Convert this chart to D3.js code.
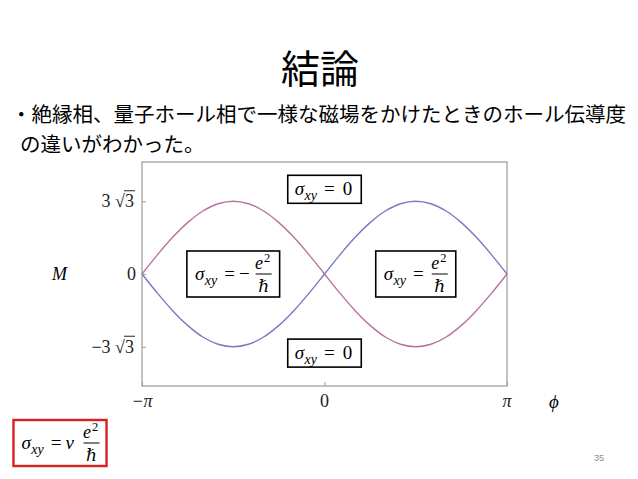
<!DOCTYPE html>
<html><head><meta charset="utf-8">
<script src="https://cdn.jsdelivr.net/npm/d3@7"></script>
<style>html,body{margin:0;padding:0;background:#fff}svg{display:block}</style>
</head><body>
<svg id="c" width="638" height="479"></svg>
<script>
// ---- data ----
const titleText = "結論";
const bodyLines = ["・絶縁相、量子ホール相で一様な磁場をかけたときのホール伝導度", "の違いがわかった。"];
// phase samples in units of pi/12
const phiSteps = [-12,-11,-10,-9,-8,-7,-6,-5,-4,-3,-2,-1,0,1,2,3,4,5,6,7,8,9,10,11,12];
const magPink = [0,1.35,2.6,3.67,4.5,5.02,5.2,5.02,4.5,3.67,2.6,1.35,0,-1.35,-2.6,-3.67,-4.5,-5.02,-5.2,-5.02,-4.5,-3.67,-2.6,-1.35,0];
const magBlue = [0,-1.35,-2.6,-3.67,-4.5,-5.02,-5.2,-5.02,-4.5,-3.67,-2.6,-1.35,0,1.35,2.6,3.67,4.5,5.02,5.2,5.02,4.5,3.67,2.6,1.35,0];
const xTickValues = [-Math.PI, 0, Math.PI];
const xTickLabels = ["−π", "0", "π"];
const yTickValues = [3*Math.sqrt(3), 0, -3*Math.sqrt(3)];
const yTickCoef = ["3", "0", "−3"];
const yTickRad = ["3", "", "3"];
const xLabel = "ϕ";
const yLabel = "M";
// annotation boxes: [phi, M] anchor and right-hand side of sigma_xy
const annotPhi = [0, 0, -Math.PI/2, Math.PI/2];
const annotM = [6.05, -5.65, 0, 0];
const annotOp = ["", "", "−", ""];
const annotFrac = [false, false, true, true];
const annotVal = ["0", "0", "", ""];
const pageNumber = "35";

// ---- drawing ----
const svg = d3.select("#c");
const W = 638, H = 479;
const JP = "'Noto Sans CJK JP','Noto Sans',sans-serif";
const MATH = "'Liberation Serif','DejaVu Serif',serif";

svg.append("rect").attr("width", W).attr("height", H).attr("fill", "#fff");

svg.append("text").attr("x", 320).attr("y", 83).attr("text-anchor", "middle")
  .attr("font-family", JP).attr("font-size", 39).attr("fill", "#000").text(titleText);

svg.append("text").attr("x", 11).attr("y", 122).attr("font-family", JP)
  .attr("font-size", 20.5).attr("fill", "#000").text(bodyLines[0]);
svg.append("text").attr("x", 20).attr("y", 152).attr("font-family", JP)
  .attr("font-size", 20.5).attr("fill", "#000").text(bodyLines[1]);

const x = d3.scaleLinear().domain([-Math.PI, Math.PI]).range([142, 507]);
const y = d3.scaleLinear().domain([-8, 8]).range([386, 162]);

// frame
const AX = "#9a9a9a";
svg.append("rect").attr("x", x.range()[0]).attr("y", y.range()[1])
  .attr("width", x.range()[1]-x.range()[0]).attr("height", y.range()[0]-y.range()[1])
  .attr("fill", "none").attr("stroke", AX).attr("stroke-width", 1.2);

const gx = svg.append("g").attr("transform", `translate(0,${y.range()[0]})`)
  .call(d3.axisBottom(x).tickValues(xTickValues).tickSizeInner(-4).tickSizeOuter(0).tickFormat(""));
gx.select(".domain").remove();
gx.selectAll("line").attr("stroke", AX);
const gy = svg.append("g").attr("transform", `translate(${x.range()[0]},0)`)
  .call(d3.axisLeft(y).tickValues(yTickValues).tickSizeInner(-4).tickSizeOuter(0).tickFormat(""));
gy.select(".domain").remove();
gy.selectAll("line").attr("stroke", AX);

// x tick labels
svg.selectAll("text.xt").data(xTickValues).join("text").attr("class", "xt")
  .attr("x", d => x(d)).attr("y", 407).attr("text-anchor", "middle")
  .attr("font-family", MATH).attr("font-size", 18).attr("fill", "#222")
  .attr("font-style", (d,i) => i === 1 ? "normal" : "italic")
  .text((d,i) => xTickLabels[i]);

// y tick labels
yTickValues.forEach((v, i) => {
  const by = y(v) + 6;
  const right = 134;
  if (yTickRad[i]) {
    const r = svg.append("text").attr("x", right).attr("y", by).attr("text-anchor", "end")
      .attr("font-family", MATH).attr("font-size", 18).attr("fill", "#222").text(yTickRad[i]);
    const w = r.node().getBBox().width;
    svg.append("text").attr("x", right - w).attr("y", by).attr("text-anchor", "end")
      .attr("font-family", MATH).attr("font-size", 18).attr("fill", "#222").text(yTickCoef[i] + " √");
    svg.append("line").attr("x1", right - w - 1).attr("x2", right + 1)
      .attr("y1", by - 16.5).attr("y2", by - 16.5).attr("stroke", "#222").attr("stroke-width", 1);
  } else {
    svg.append("text").attr("x", right + 2).attr("y", by).attr("text-anchor", "end")
      .attr("font-family", MATH).attr("font-size", 18).attr("fill", "#222").text(yTickCoef[i]);
  }
});

// curves
const line = d3.line().x(d => x(d[0] * Math.PI / 12)).y(d => y(d[1])).curve(d3.curveCatmullRom);
svg.append("path").datum(phiSteps.map((p, i) => [p, magPink[i]])).attr("d", line)
  .attr("fill", "none").attr("stroke", "#b8739e").attr("stroke-width", 1.4);
svg.append("path").datum(phiSteps.map((p, i) => [p, magBlue[i]])).attr("d", line)
  .attr("fill", "none").attr("stroke", "#7a7abd").attr("stroke-width", 1.4);

// axis labels
svg.append("text").attr("x", 52).attr("y", 280).attr("font-family", MATH).attr("font-style", "italic")
  .attr("font-size", 18).attr("fill", "#000").text(yLabel);
svg.append("text").attr("x", 549).attr("y", 408).attr("font-family", MATH).attr("font-style", "italic")
  .attr("font-size", 19).attr("fill", "#000").text(xLabel);

// formula helper: fraction line at lineY, centered at cx
function formula(g, cx, lineY, op, frac, val, padL, padR, fracGap, stroke, sw) {
  const grp = g.append("g");
  const t = grp.append("text").attr("x", 0).attr("y", lineY + 6)
    .attr("font-family", MATH).attr("font-size", 19).attr("fill", "#000");
  t.append("tspan").attr("font-style", "italic").text("σ");
  t.append("tspan").attr("font-style", "italic").attr("font-size", 14).attr("dy", 4.5).attr("dx", 0.5).text("xy");
  t.append("tspan").attr("dy", -4.5).attr("dx", 7).text("=");
  if (op) t.append("tspan").attr("dx", 4).attr("font-style", op === "ν" ? "italic" : "normal").text(op);
  if (!frac) t.append("tspan").attr("dx", 8).text(val);
  const w = t.node().getBBox().width;
  const fw = 16;
  const total = frac ? w + fracGap + fw : w;
  const x0 = cx - (total + padL + padR) / 2 + padL;
  t.attr("x", x0);
  if (frac) {
    const fx = x0 + w + fracGap;
    grp.append("line").attr("x1", fx).attr("x2", fx + fw).attr("y1", lineY).attr("y2", lineY)
      .attr("stroke", "#000").attr("stroke-width", 1);
    const e = grp.append("text").attr("x", fx + fw / 2 - 1).attr("y", lineY - 5).attr("text-anchor", "middle")
      .attr("font-family", MATH).attr("font-size", 18).attr("fill", "#000");
    e.append("tspan").attr("font-style", "italic").text("e");
    e.append("tspan").attr("font-size", 12.5).attr("dy", -7).attr("dx", 1).text("2");
    grp.append("text").attr("x", fx + fw / 2).attr("y", lineY + 18).attr("text-anchor", "middle")
      .attr("font-family", MATH).attr("font-style", "italic").attr("font-size", 17).attr("fill", "#000").text("ℏ");
  }
  const hh = frac ? 23 : 14;
  grp.insert("rect", ":first-child").attr("x", x0 - padL).attr("y", lineY - hh)
    .attr("width", total + padL + padR).attr("height", 2 * hh)
    .attr("fill", "#fff").attr("stroke", stroke).attr("stroke-width", sw);
  return grp;
}

const ann = svg.append("g");
annotPhi.forEach((p, i) => {
  formula(ann, x(p), y(annotM[i]), annotOp[i], annotFrac[i], annotVal[i],
    annotFrac[i] ? 8 : 7, annotFrac[i] ? 8 : 9, annotOp[i] ? 6 : 8, "#000", 1.6);
});

// bottom-left red box
formula(svg, 60, 443, "ν", true, "", 8, 7, 9, "#d82020", 2.4);

// page number
svg.append("text").attr("x", 604).attr("y", 461).attr("text-anchor", "end")
  .attr("font-family", "'Liberation Sans',sans-serif").attr("font-size", 9).attr("fill", "#8a8a8a").text(pageNumber);
</script>
</body></html>
